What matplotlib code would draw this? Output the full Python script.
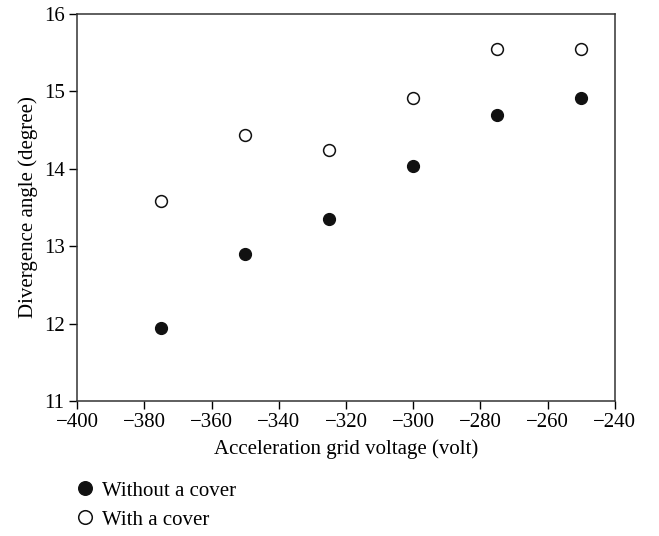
import matplotlib
matplotlib.use("Agg")
import matplotlib.pyplot as plt

# Acceleration grid voltage (volt)
voltage = [-375, -350, -325, -300, -275, -250]
# Divergence angle (degree)
without_cover = [11.94, 12.90, 13.35, 14.04, 14.69, 14.92]
with_cover = [13.58, 14.43, 14.24, 14.92, 15.55, 15.55]

plt.rcParams['font.family'] = ['Liberation Serif', 'DejaVu Serif']
plt.rcParams['font.size'] = 15

fig = plt.figure(figsize=(6.59, 5.36), dpi=100)
ax = fig.add_axes([0.117, 0.252, 0.816, 0.722])

ax.plot(voltage, without_cover, linestyle='none', marker='o', markersize=8.5,
        markerfacecolor='#111111', markeredgecolor='#111111', label='Without a cover')
ax.plot(voltage, with_cover, linestyle='none', marker='o', markersize=8.5,
        markerfacecolor='white', markeredgecolor='#111111', markeredgewidth=1.1,
        label='With a cover')

ax.set_xlim(-400, -240)
ax.set_ylim(11, 16)
ax.set_xticks(range(-400, -239, 20))
ax.set_yticks(range(11, 17))
ax.set_xticklabels([f"\u2212{abs(v)}" for v in range(-400, -239, 20)])
ax.tick_params(direction='out', length=6, width=1, labelsize=15, pad=3)

for s in ax.spines.values():
    s.set_linewidth(1.1)
    s.set_color('#333333')

ax.set_xlabel("Acceleration grid voltage (volt)", fontsize=15, labelpad=5)
ax.set_ylabel("Divergence angle (degree)", fontsize=15, labelpad=4)

fig.legend(loc='upper left', bbox_to_anchor=(0.098, 0.122), frameon=False,
           fontsize=15, handletextpad=0.3, labelspacing=0.45, borderpad=0,
           handlelength=1.0, markerscale=1.15)

fig.savefig("out.png", dpi=100)
